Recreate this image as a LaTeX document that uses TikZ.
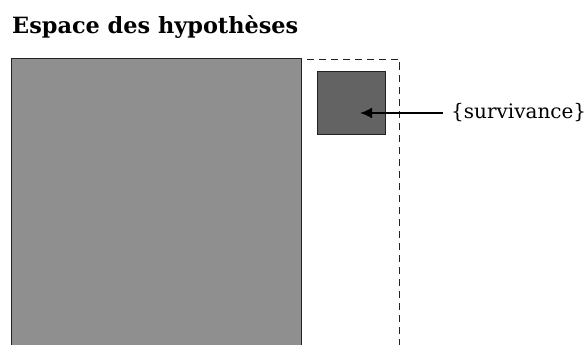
\documentclass[tikz,border=0pt]{standalone}
\usepackage{fontspec}
\setmainfont{DejaVu Serif}
\usetikzlibrary{arrows.meta, positioning}
\definecolor{hypgray}{HTML}{8F8F8F}
\definecolor{survgray}{HTML}{636363}
\definecolor{edgegray}{HTML}{222222}

\begin{document}
\begin{tikzpicture}[
      x=1pt, y=-1pt,
      hypbox/.style={rectangle, draw=edgegray, line width=1.3pt, fill=hypgray,
                     anchor=north west, inner sep=0pt},
      restbox/.style={rectangle, draw=edgegray, line width=1pt, dash pattern=on 7pt off 5pt,
                      anchor=north west, inner sep=0pt},
      survbox/.style={rectangle, draw=edgegray, line width=1pt, fill=survgray,
                      anchor=north west, inner sep=0pt},
      arrow/.style={-{Latex[length=12pt, width=11pt]}, line width=2.2pt, black}
    ]
    \useasboundingbox (0,0) rectangle (586,345);
    \node[anchor=base west, inner sep=0pt, font=\bfseries\fontsize{22.4}{26}\selectfont] (title) at (12,34) {Espace des hypothèses};
    \node[restbox, minimum width=98pt, minimum height=320pt] (rest) at (301,59) {};
    \node[hypbox, minimum width=290pt, minimum height=320pt] (hyp) at (11,58) {};
    \node[survbox, minimum width=68pt, minimum height=63pt] (surv) at (317,71) {};
    \node[anchor=west, inner xsep=8pt, inner ysep=0pt, font=\fontsize{20}{24}\selectfont] (lbl) at (443,113) {\{survivance\}};
    \coordinate (tip) at (360,113);

    \draw[arrow] (lbl.west) -- (tip);
\end{tikzpicture}
\end{document}
